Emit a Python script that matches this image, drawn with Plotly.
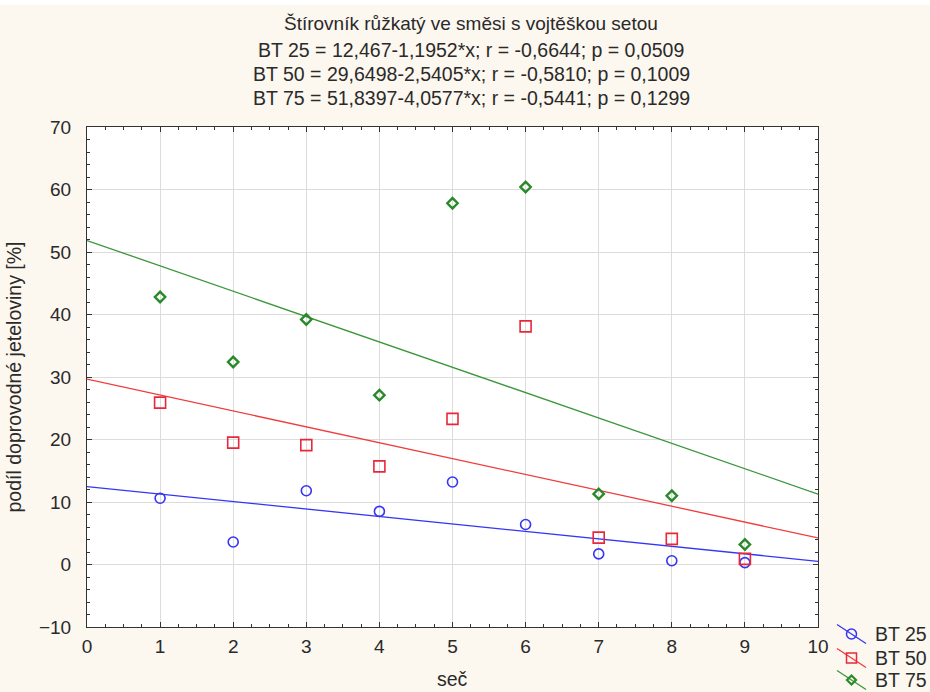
import plotly.graph_objects as go

# ---- data ----
sec = [1, 2, 3, 4, 5, 6, 7, 8, 9]
bt25 = [10.6, 3.6, 11.8, 8.5, 13.2, 6.4, 1.7, 0.6, 0.3]
bt50 = [25.9, 19.5, 19.1, 15.7, 23.3, 38.1, 4.3, 4.1, 0.9]
bt75 = [42.8, 32.4, 39.2, 27.1, 57.8, 60.4, 11.3, 11.0, 3.2]
series_names = ["BT 25", "BT 50", "BT 75"]
intercepts = [12.467, 29.6498, 51.8397]
slopes = [-1.1952, -2.5405, -4.0577]
title_lines = [
    "Štírovník růžkatý ve směsi s vojtěškou setou",
    "BT 25 = 12,467-1,1952*x; r = -0,6644; p = 0,0509",
    "BT 50 = 29,6498-2,5405*x; r = -0,5810; p = 0,1009",
    "BT 75 = 51,8397-4,0577*x; r = -0,5441; p = 0,1299",
]
x_title = "seč"
y_title = "podíl doprovodné jeteloviny [%]"

colors = ["#3535f5", "#f03c3c", "#3a963a"]
marker_colors = ["#3535f5", "#e8283a", "#2a8a2a"]
symbols = ["circle-open", "square-open", "diamond-open"]
sizes = [10, 11, 8]

W, H = 930, 692
L, R, T, B = 87, 112, 127, 65
PW, PH = W - L - R, H - T - B

def px(xp):
    return (xp - L) / PW

def py(yp):
    return (H - B - yp) / PH

fig = go.Figure()
xline = [0, 10]
for i, ys in enumerate([bt25, bt50, bt75]):
    fig.add_trace(go.Scatter(
        x=xline, y=[intercepts[i] + slopes[i] * xv for xv in xline],
        mode="lines", line=dict(color=colors[i], width=1.3),
        showlegend=False, hoverinfo="skip"))
for i, ys in enumerate([bt25, bt50, bt75]):
    fig.add_trace(go.Scatter(
        x=sec, y=ys, mode="markers", name=series_names[i],
        marker=dict(symbol=symbols[i], size=sizes[i], color=marker_colors[i],
                    line=dict(width=1.6 if i < 2 else 2.4, color=marker_colors[i])),
        showlegend=False))

font_family = "Liberation Sans, Arial, sans-serif"
text_color = "#2a2a2a"

annotations = []
title_y = [23, 50, 74, 98]
for j, t in enumerate(title_lines):
    annotations.append(dict(
        text=t, xref="paper", yref="paper", x=px(471), y=py(title_y[j]),
        xanchor="center", yanchor="middle", showarrow=False,
        font=dict(family=font_family, size=19 if j == 0 else 19.5, color=text_color)))

# x axis title as annotation
annotations.append(dict(
    text=x_title, xref="paper", yref="paper", x=0.5, y=py(679),
    xanchor="center", yanchor="middle", showarrow=False, borderpad=0,
    font=dict(family=font_family, size=19.5, color=text_color)))

# custom legend (diagonal line with marker, like the original)
shapes = []
leg_rows = [634, 658, 680]
for i, name in enumerate(series_names):
    yc = leg_rows[i]
    shapes.append(dict(type="line", xref="paper", yref="paper",
                       x0=px(837), y0=py(yc - 9.5), x1=px(866), y1=py(yc + 9.5),
                       line=dict(color=colors[i], width=1.3)))
    cx = 851.5
    if i == 0:
        shapes.append(dict(type="circle", xref="paper", yref="paper",
                           x0=px(cx - 5), x1=px(cx + 5), y0=py(yc - 5), y1=py(yc + 5),
                           line=dict(color=marker_colors[i], width=1.5), fillcolor="rgba(0,0,0,0)"))
    elif i == 1:
        shapes.append(dict(type="rect", xref="paper", yref="paper",
                           x0=px(cx - 5), x1=px(cx + 5), y0=py(yc - 5), y1=py(yc + 5),
                           line=dict(color=marker_colors[i], width=1.5), fillcolor="rgba(0,0,0,0)"))
    else:
        path = "M {} {} L {} {} L {} {} L {} {} Z".format(
            px(cx), py(yc - 4.5), px(cx + 4.5), py(yc), px(cx), py(yc + 4.5), px(cx - 4.5), py(yc))
        shapes.append(dict(type="path", xref="paper", yref="paper", path=path,
                           line=dict(color=marker_colors[i], width=2.2), fillcolor="rgba(0,0,0,0)"))
    annotations.append(dict(
        text=name, xref="paper", yref="paper", x=px(874), y=py(yc),
        xanchor="left", yanchor="middle", showarrow=False, borderpad=0,
        font=dict(family=font_family, size=19.5, color=text_color)))

# white strip at very top (page cut)
shapes.append(dict(type="rect", xref="paper", yref="paper", layer="below",
                   x0=px(0), x1=px(W), y0=py(0), y1=py(5),
                   line=dict(width=0), fillcolor="#ffffff"))

fig.update_layout(
    width=W, height=H,
    margin=dict(l=L, r=R, t=T, b=B, pad=0),
    paper_bgcolor="#fcf7ef", plot_bgcolor="#ffffff",
    font=dict(family=font_family, size=19, color=text_color),
    annotations=annotations, shapes=shapes, showlegend=False,
)
fig.update_xaxes(
    range=[0, 10], dtick=1, tick0=0, automargin=False,
    showgrid=True, gridcolor="#dcdcdc", gridwidth=1, zeroline=False,
    showline=True, linecolor="#333333", linewidth=1, mirror="allticks",
    ticks="inside", ticklen=5, tickcolor="#333333",
    minor=dict(ticks="inside", dtick=0.25, ticklen=3, tickcolor="#333333", showgrid=False),
    tickfont=dict(size=19), ticklabelstandoff=2,
)
fig.update_yaxes(
    range=[-10, 70], dtick=10, tick0=0, automargin=False,
    showgrid=True, gridcolor="#dcdcdc", gridwidth=1, zeroline=False,
    showline=True, linecolor="#333333", linewidth=1, mirror="allticks",
    ticks="inside", ticklen=5, tickcolor="#333333",
    minor=dict(ticks="inside", dtick=2, ticklen=3, tickcolor="#333333", showgrid=False),
    tickfont=dict(size=19), ticklabelstandoff=11,
    title=dict(text=y_title, font=dict(size=19.5), standoff=12),
)

fig.write_html("out.html")
